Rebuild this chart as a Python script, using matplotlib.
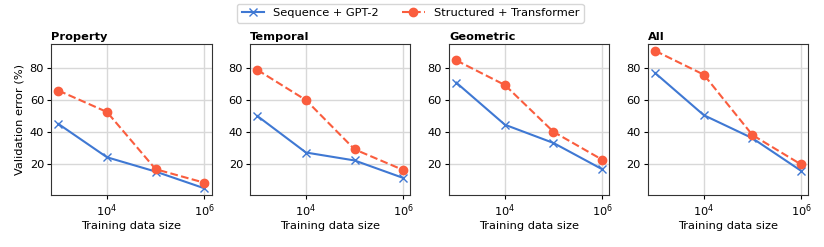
# Validation error vs training data size, four task types

import matplotlib.pyplot as plt
import numpy as np

sizes = [1e3, 1e4, 1e5, 1e6]
titles = ['Property', 'Temporal', 'Geometric', 'All']

gpt2_err = [
    [45, 24, 15, 4.5],
    [50, 27, 22, 11],
    [71, 44.5, 33, 16.5],
    [77, 50.5, 36, 15.5],
]
trans_err = [
    [66, 52.5, 16.5, 8],
    [79, 60, 29, 16],
    [85, 69.5, 40, 22.5],
    [91, 76, 38, 19.5],
]

blue = '#3f78d3'
red = '#fa5d3e'
fs = 8.2

fig, axes = plt.subplots(1, 4, figsize=(8.24, 2.47), dpi=100, sharey=True)
fig.subplots_adjust(left=0.062, right=0.981, bottom=0.21, top=0.822, wspace=0.24)

for i, ax in enumerate(axes):
    ax.plot(sizes, gpt2_err[i], color=blue, marker='x', ms=6, lw=1.5, label='Sequence + GPT-2')
    ax.plot(sizes, trans_err[i], color=red, marker='o', ms=6, lw=1.5, ls='--', label='Structured + Transformer')
    ax.set_xscale('log')
    ax.set_xticks([1e4, 1e6])
    ax.xaxis.set_minor_locator(plt.NullLocator())
    ax.set_yticks([20, 40, 60, 80])
    ax.grid(True, color='#d8d8d8', lw=1)
    ax.set_axisbelow(True)
    ax.set_title(titles[i], loc='left', fontweight='bold', fontsize=fs, pad=3)
    ax.set_xlabel('Training data size', fontsize=fs, labelpad=2)
    ax.tick_params(labelsize=fs, labelleft=True, length=3, pad=2)
    for s in ax.spines.values():
        s.set_color('#333333')

axes[0].set_ylabel('Validation error (%)', fontsize=fs)

h, l = axes[0].get_legend_handles_labels()
fig.legend(h, l, loc='upper center', bbox_to_anchor=(0.498, 0.995), ncol=2, fontsize=fs,
           frameon=True, borderaxespad=0.2, columnspacing=2.0)

plt.savefig('out.png', dpi=100)
